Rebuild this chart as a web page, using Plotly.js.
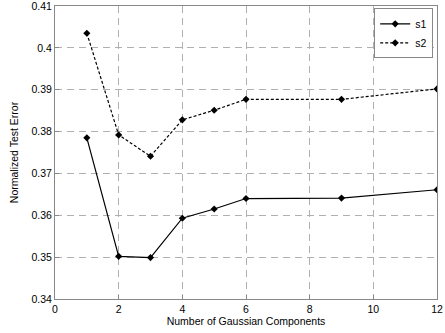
<!DOCTYPE html>
<html><head><meta charset="utf-8">
<script src="https://cdn.plot.ly/plotly-3.0.1.min.js"></script>
<style>html,body{margin:0;padding:0;background:#fff;}#c{width:445px;height:333px;}</style>
</head><body><div id="c"></div>
<script>
const components = [1, 2, 3, 4, 5, 6, 9, 12];
const s1 = [0.3785, 0.3502, 0.3499, 0.3593, 0.3615, 0.3640, 0.3641, 0.3661];
const s2 = [0.4035, 0.3792, 0.3741, 0.3828, 0.3851, 0.3877, 0.3877, 0.3902];
const xTicks = [0, 2, 4, 6, 8, 10, 12];
const yTicks = [0.34, 0.35, 0.36, 0.37, 0.38, 0.39, 0.40, 0.41];
const yTickText = ['0.34', '0.35', '0.36', '0.37', '0.38', '0.39', '0.4', '0.41'];

const fam = 'Liberation Sans, Arial, sans-serif';
const tickFont = {family: fam, size: 10.5, color: '#000'};
const titleFont = {family: fam, size: 10.5, color: '#000'};
const traces = [
  {x: components, y: s1, name: 's1', mode: 'lines+markers', type: 'scatter',
   line: {color: '#000', width: 1.2, dash: 'solid'},
   marker: {symbol: 'diamond', size: 5.5, color: '#000'}},
  {x: components, y: s2, name: 's2', mode: 'lines+markers', type: 'scatter',
   line: {color: '#000', width: 1.2, dash: '3px,2px'},
   marker: {symbol: 'diamond', size: 5.5, color: '#000'}}
];
const axisCommon = {
  showline: true, linecolor: '#888', linewidth: 1, mirror: true,
  ticks: 'inside', ticklen: 4, tickcolor: '#888',
  showgrid: true, gridcolor: '#b0b0b0', griddash: '7px,5px', gridwidth: 1,
  zeroline: false, tickfont: tickFont, ticklabeloverflow: 'allow'
};
const layout = {
  width: 445, height: 333,
  margin: {l: 55, r: 8, t: 6, b: 34},
  paper_bgcolor: '#fff', plot_bgcolor: '#fff',
  font: tickFont,
  showlegend: true,
  legend: {x: 0.99, y: 0.992, xanchor: 'right', yanchor: 'top',
    bordercolor: '#888', borderwidth: 1, bgcolor: '#fff',
    font: {family: fam, size: 10.5, color: '#000'},
    itemwidth: 30, tracegroupgap: 0},
  xaxis: Object.assign({}, axisCommon, {
    range: [0, 12], tickvals: xTicks, ticktext: xTicks.map(String),
    title: {text: 'Number of Gaussian Components', font: titleFont, standoff: 3}
  }),
  yaxis: Object.assign({}, axisCommon, {
    range: [0.34, 0.4100001], tickvals: yTicks, ticktext: yTickText,
    title: {text: 'Normalized Test Error', font: titleFont, standoff: 10}
  })
};
Plotly.newPlot('c', traces, layout, {displayModeBar: false, staticPlot: true});
</script></body></html>
